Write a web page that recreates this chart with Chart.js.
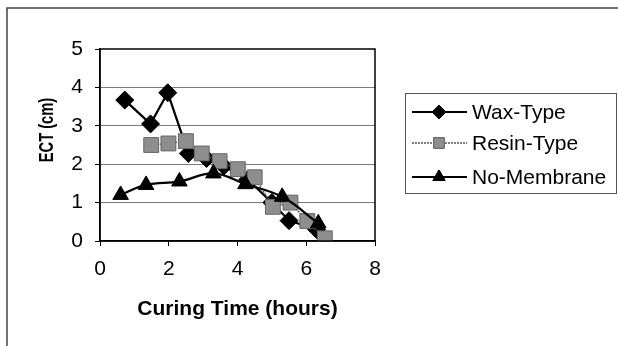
<!DOCTYPE html>
<html>
<head>
<meta charset="utf-8">
<script src="https://cdn.jsdelivr.net/npm/chart.js@4/dist/chart.umd.min.js"></script>
<style>
  html, body { margin: 0; padding: 0; background: #fff; }
  #wrap { width: 618px; height: 346px; position: relative; }
</style>
</head>
<body>
<div id="wrap"><canvas id="c" width="618" height="346"></canvas></div>
<script>
// ---- data ----
const seriesNames = ['Wax-Type', 'Resin-Type', 'No-Membrane'];
const waxX   = [0.72, 1.47, 1.97, 2.57, 3.1, 3.6, 4.3, 5.0, 5.5, 6.3];
const waxY   = [3.67, 3.05, 3.86, 2.28, 2.15, 1.95, 1.6, 1.0, 0.53, 0.3];
const resinX = [1.49, 1.99, 2.5, 2.96, 3.48, 4.01, 4.5, 5.03, 5.54, 6.03, 6.54];
const resinY = [2.5, 2.54, 2.6, 2.28, 2.08, 1.87, 1.66, 0.89, 1.0, 0.52, 0.07];
const nomemX = [0.6, 1.34, 2.31, 3.3, 4.23, 5.3, 6.35];
const nomemY = [1.2, 1.46, 1.55, 1.76, 1.48, 1.15, 0.46];
const xTicks = [0, 2, 4, 6, 8];
const yTicks = [0, 1, 2, 3, 4, 5];
const xTitle = 'Curing Time (hours)';
const yTitle = 'ECT (cm)';

const FONT = '"Liberation Sans", Arial, sans-serif';
const toPts = (xs, ys) => xs.map((x, i) => ({ x: x, y: ys[i] }));

const datasets = [
  {
    label: seriesNames[0], data: toPts(waxX, waxY), order: 3,
    borderColor: '#000', backgroundColor: '#000', borderWidth: 2.2,
    pointStyle: 'rectRot', pointRadius: 9, pointBorderWidth: 1,
    pointBackgroundColor: '#000', pointBorderColor: '#000', tension: 0
  },
  {
    label: seriesNames[1], data: toPts(resinX, resinY), order: 2,
    borderColor: '#555', backgroundColor: '#8c8c8c', borderWidth: 1.5, borderDash: [2, 1],
    pointStyle: 'rect', pointRadius: 10.5, pointBorderWidth: 1,
    pointBackgroundColor: '#8e8e8e', pointBorderColor: '#666', tension: 0
  },
  {
    label: seriesNames[2], data: toPts(nomemX, nomemY), order: 1,
    borderColor: '#000', backgroundColor: '#000', borderWidth: 2.2,
    pointStyle: 'triangle', pointRadius: 9, pointBorderWidth: 1,
    pointBackgroundColor: '#000', pointBorderColor: '#000', tension: 0.4
  }
];

const decor = {
  id: 'decor',
  beforeDraw(chart) {
    const ctx = chart.ctx;
    ctx.save();
    ctx.fillStyle = '#fff';
    ctx.fillRect(0, 0, chart.width, chart.height);
    // outer frame (top and left)
    ctx.strokeStyle = '#444';
    ctx.lineWidth = 1.5;
    ctx.beginPath();
    ctx.moveTo(7, chart.height + 2);
    ctx.lineTo(7, 8);
    ctx.lineTo(chart.width + 2, 8);
    ctx.stroke();
    ctx.restore();
  },
  afterDatasetsDraw(chart) {
    const ctx = chart.ctx;
    const a = chart.chartArea;
    ctx.save();
    ctx.strokeStyle = '#000';
    ctx.lineWidth = 1.5;
    ctx.strokeRect(a.left, a.top, a.right - a.left, a.bottom - a.top);
    ctx.restore();
  },
  afterDraw(chart) {
    const ctx = chart.ctx;
    const a = chart.chartArea;
    ctx.save();
    ctx.fillStyle = '#000';
    ctx.font = 'bold 21px ' + FONT;
    ctx.textAlign = 'center';
    ctx.textBaseline = 'middle';
    // axis titles
    ctx.fillText(xTitle, (a.left + a.right) / 2, a.bottom + 68);
    ctx.save();
    ctx.translate(a.left - 53, (a.top + a.bottom) / 2 - 15);
    ctx.rotate(-Math.PI / 2);
    ctx.scale(0.7, 1);
    ctx.fillText(yTitle, 0, 0);
    ctx.restore();

    // legend
    const lx = a.right + 30, ly = a.top + 44, lw = 212, lh = 100;
    ctx.fillStyle = '#fff';
    ctx.fillRect(lx, ly, lw, lh);
    ctx.strokeStyle = '#555';
    ctx.lineWidth = 1;
    ctx.strokeRect(lx + 0.5, ly + 0.5, lw - 1, lh);
    const rows = [ly + 19, ly + 50, ly + 84];
    chart.data.datasets.forEach((ds, i) => {
      const y = rows[i];
      ctx.save();
      ctx.strokeStyle = ds.borderColor;
      ctx.lineWidth = ds.borderWidth;
      ctx.setLineDash(ds.borderDash || []);
      ctx.beginPath();
      ctx.moveTo(lx + 7, y);
      ctx.lineTo(lx + 62, y);
      ctx.stroke();
      ctx.restore();
      ctx.save();
      ctx.fillStyle = ds.pointBackgroundColor;
      ctx.strokeStyle = ds.pointBorderColor;
      ctx.lineWidth = 1;
      Chart.helpers.drawPoint(ctx, {
        pointStyle: ds.pointStyle,
        radius: ds.pointStyle === 'rect' ? 7.5 : 7,
        rotation: 0, borderWidth: 1
      }, lx + 34, y);
      ctx.fill();
      ctx.stroke();
      ctx.restore();
      ctx.fillStyle = '#000';
      ctx.font = '21px ' + FONT;
      ctx.textAlign = 'left';
      ctx.textBaseline = 'middle';
      ctx.fillText(ds.label, lx + 67, y + 1);
    });
    ctx.restore();
  }
};

new Chart(document.getElementById('c'), {
  type: 'line',
  data: { datasets: datasets },
  plugins: [decor],
  options: {
    responsive: false,
    animation: false,
    devicePixelRatio: 1,
    layout: { padding: { left: 0, top: 49, right: 243, bottom: 0 } },
    plugins: { legend: { display: false }, tooltip: { enabled: false }, title: { display: false } },
    scales: {
      x: {
        type: 'linear', min: 0, max: 8,
        afterFit: s => { s.height = 105; },
        afterBuildTicks: s => { s.ticks = xTicks.map(v => ({ value: v })); },
        grid: { drawOnChartArea: false, tickLength: 5, color: '#000', tickColor: '#000' },
        border: { display: true, color: '#000', width: 1.5 },
        ticks: { color: '#000', padding: 11, font: { family: FONT, size: 21 }, maxRotation: 0 }
      },
      y: {
        type: 'linear', min: 0, max: 5,
        afterFit: s => { s.width = 100; },
        afterBuildTicks: s => { s.ticks = yTicks.map(v => ({ value: v })); },
        grid: {
          tickLength: 5, tickColor: '#000',
          color: c => (c.tick && (c.tick.value === 0 || c.tick.value === 5)) ? 'rgba(0,0,0,0)' : '#7a7a7a',
          lineWidth: 1
        },
        border: { display: true, color: '#000', width: 1.5 },
        ticks: { color: '#000', padding: 12, font: { family: FONT, size: 21 } }
      }
    }
  }
});
</script>
</body>
</html>
